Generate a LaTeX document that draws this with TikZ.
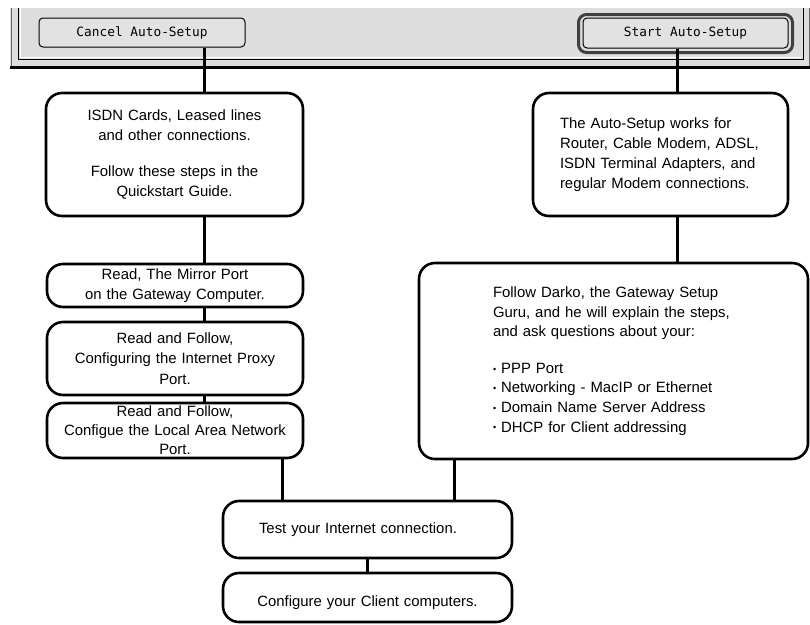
\documentclass[tikz,border=0pt]{standalone}
\usepackage{fontspec}
\setmainfont{Liberation Sans}
\newfontfamily\btnfont{DejaVu Sans Mono}
\usetikzlibrary{positioning}
\definecolor{panelgray}{HTML}{DDDDDD}
\definecolor{btngray}{HTML}{E2E2E2}
\newcommand{\dotitem}{\raisebox{1.2pt}{\fontsize{9}{9}\selectfont\textbullet}\ }

\begin{document}
\begin{tikzpicture}[
    x=1pt, y=-1pt,
    box/.style={draw, line width=2.6pt, rounded corners=16pt, inner ysep=2pt,
      font=\fontsize{14.9}{20.2}\selectfont},
    wire/.style={line width=3pt},
    button/.style={draw=black, line width=1pt, rounded corners=4pt, fill=btngray,
      minimum width=206pt, minimum height=29pt, font=\btnfont\fontsize{12.8}{14}\selectfont}
]
\useasboundingbox (0,0) rectangle (810,624);

% dialog panel
\fill[panelgray] (10,8) rectangle (810,69);
\draw[black!60, line width=1pt] (11,8) -- (11,66);
\draw[black!60, line width=1pt] (809,8) -- (809,66);
\draw[white, line width=1pt] (20,8) -- (20,57) -- (801,57);
\draw[black, line width=1pt] (18,8) -- (18,59) -- (803,59) -- (803,8);
\draw[black, line width=3pt] (10,67.5) -- (810,67.5);

% buttons
\node[button] (cancel) at (142,32.5) {Cancel Auto-Setup};
\node[button, minimum width=205pt, minimum height=30pt] (start) at (685.5,33) {Start Auto-Setup};
\draw[black!75, line width=3pt, rounded corners=8pt]
  ([shift={(-4pt,3pt)}]start.north west) rectangle ([shift={(4pt,-4pt)}]start.south east);

% left column
\node[box, text width=240pt, inner xsep=8.5pt, minimum height=123pt, align=center] (isdn) at (174.5,154.5)
  {ISDN Cards, Leased lines\\and other connections.\\[16pt]Follow these steps in the\\Quickstart Guide.};
\node[box, text width=240pt, inner xsep=8pt, minimum height=43pt, align=center] (mirror) at (175,285.5)
  {Read, The Mirror Port\\on the Gateway Computer.};
\node[box, text width=240pt, inner xsep=8pt, minimum height=73pt, align=center] (proxy) at (175,358.5)
  {Read and Follow,\\Configuring the Internet Proxy\\Port.};
\node[box, text width=240pt, inner xsep=8pt, inner ysep=0pt, minimum height=55pt, align=center,
  font=\fontsize{14.9}{19}\selectfont] (lan) at (175,430.5)
  {Read and Follow,\\Configue the Local Area Network\\Port.};

% right column
\node[box, text width=201pt, inner xsep=27pt, minimum height=123pt, align=left] (auto) at (660.5,154.5)
  {The Auto-Setup works for\\Router, Cable Modem, ADSL,\\ISDN Terminal Adapters, and\\regular Modem connections.};
\node[box, text width=241pt, inner xsep=74pt, minimum height=196pt, align=left,
  font=\fontsize{14.9}{19.6}\selectfont] (darko) at (613.5,361)
  {Follow Darko, the Gateway Setup\\Guru, and he will explain the steps,\\and ask questions about your:\\[17pt]
   \dotitem PPP Port\\\dotitem Networking - MacIP or Ethernet\\\dotitem Domain Name Server Address\\\dotitem DHCP for Client addressing};

% bottom steps
\node[box, text width=217pt, inner xsep=36pt, minimum height=57pt, align=left] (test) at (367.5,529.5)
  {Test your Internet connection.};
\node[box, text width=255pt, inner xsep=17pt, minimum height=49pt, align=center] (config) at (367.5,597.5)
  {\raisebox{-5pt}[\height][\depth]{Configure your Client computers.}};

% connectors
\draw[wire] ([xshift=29.5pt]isdn.north) -- ([xshift=29.5pt]isdn.north |- cancel.south);
\draw[wire] ([xshift=16.5pt]auto.north) -- ([xshift=16.5pt]auto.north |- start.south);
\draw[wire] ([xshift=29pt]mirror.north) -- ([xshift=29pt]mirror.north |- isdn.south);
\draw[wire] ([xshift=29pt]proxy.north) -- ([xshift=29pt]proxy.north |- mirror.south);
\draw[wire] ([xshift=29pt]lan.north) -- ([xshift=29pt]lan.north |- proxy.south);
\draw[wire] ([xshift=63.5pt]darko.north) -- ([xshift=63.5pt]darko.north |- auto.south);
\draw[wire] ([xshift=107pt]lan.south) -- ([xshift=107pt]lan.south |- test.north);
\draw[wire] ([xshift=-159.5pt]darko.south) -- ([xshift=-159.5pt]darko.south |- test.north);
\draw[wire] (test.south) -- (config.north);

\end{tikzpicture}
\end{document}
